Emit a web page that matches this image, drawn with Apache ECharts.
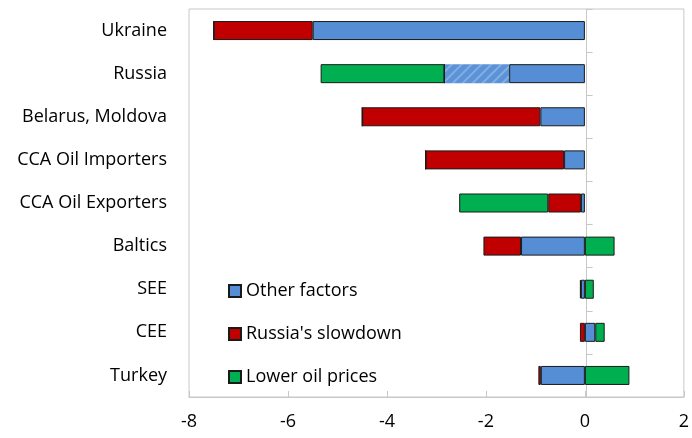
<!DOCTYPE html>
<html><head><meta charset="utf-8">
<script src="https://cdn.jsdelivr.net/npm/echarts@6/dist/echarts.min.js"></script>
<style>html,body{margin:0;padding:0;background:#fff}#c{width:692px;height:438px}</style>
</head><body><div id="c"></div>
<script>
var categories = ['Ukraine','Russia','Belarus, Moldova','CCA Oil Importers','CCA Oil Exporters','Baltics','SEE','CEE','Turkey'];
var otherFactors   = [-5.5, -1.53, -0.9, -0.42, -0.08, -1.29, -0.08, 0.21, -0.89];
var otherHatched   = [0, -1.31, 0, 0, 0, 0, 0, 0, 0];
var russiaSlowdown = [-2.0, 0, -3.6, -2.8, -0.66, -0.76, -0.02, -0.1, -0.05];
var lowerOilPrices = [0, -2.5, 0, 0, -1.8, 0.6, 0.18, 0.19, 0.9];
var xTicks = [-8, -6, -4, -2, 0, 2];

var FONT = '"Open Sans", "Noto Sans", sans-serif';
var border = {borderColor: '#1a1a1a', borderWidth: 1};
var cats = categories.slice().reverse();
function rev(a){ return a.slice().reverse(); }

var W = 692, GL = 189, GR = 6;
var xMin = xTicks[0], xMax = xTicks[xTicks.length-1];
var zeroOffset = -((0 - xMin) / (xMax - xMin)) * (W - GL - GR);

var chart = echarts.init(document.getElementById('c'));
chart.setOption({
  animation: false,
  grid: {left: GL, right: GR, top: 9, bottom: 41, show: true, borderColor: '#c8c8c8', borderWidth: 1},
  legend: {
    data: ['Other factors', "Russia's slowdown", 'Lower oil prices'],
    orient: 'vertical', left: 228, top: 282, padding: 0, itemWidth: 12, itemHeight: 12, itemGap: 25,
    textStyle: {fontFamily: FONT, fontSize: 18, color: '#000'},
    icon: 'rect'
  },
  xAxis: {
    type: 'value', min: xMin, max: xMax, interval: 2,
    axisLine: {show: true, onZero: false, lineStyle: {color: '#c8c8c8'}},
    axisTick: {show: true, inside: true, length: 6, lineStyle: {color: '#c8c8c8'}},
    splitLine: {show: false},
    axisLabel: {fontFamily: FONT, fontSize: 18, color: '#000', margin: 16}
  },
  yAxis: [
    {type: 'category', data: cats, axisLine: {show: false, onZero: false}, axisTick: {show: false},
     axisLabel: {fontFamily: FONT, fontSize: 18, color: '#000', margin: 22}},
    {type: 'category', data: cats, position: 'left', offset: zeroOffset,
     axisLine: {show: true, onZero: false, lineStyle: {color: '#c8c8c8'}},
     axisTick: {show: true, inside: true, length: 6, lineStyle: {color: '#c8c8c8'}},
     axisLabel: {show: false}}
  ],
  series: [
    {name: 'Other factors', type: 'bar', stack: 't', barWidth: 19, data: rev(otherFactors),
     itemStyle: Object.assign({color: '#558ED5'}, border), z: 3},
    {name: 'Other factors (hatched)', type: 'bar', stack: 't', barWidth: 19, data: rev(otherHatched),
     itemStyle: {color: '#5b92d8', borderWidth: 0,
       decal: {symbol: 'rect', dashArrayX: [1, 0], dashArrayY: [2, 5], rotation: -Math.PI/4, color: 'rgba(255,255,255,0.25)', symbolSize: 1}}, z: 2},
    {name: "Russia's slowdown", type: 'bar', stack: 't', barWidth: 19, data: rev(russiaSlowdown),
     itemStyle: Object.assign({color: '#C00000'}, border), z: 3},
    {name: 'Lower oil prices', type: 'bar', stack: 't', barWidth: 19, data: rev(lowerOilPrices),
     itemStyle: Object.assign({color: '#00B050'}, border), z: 3}
  ]
});
</script></body></html>
